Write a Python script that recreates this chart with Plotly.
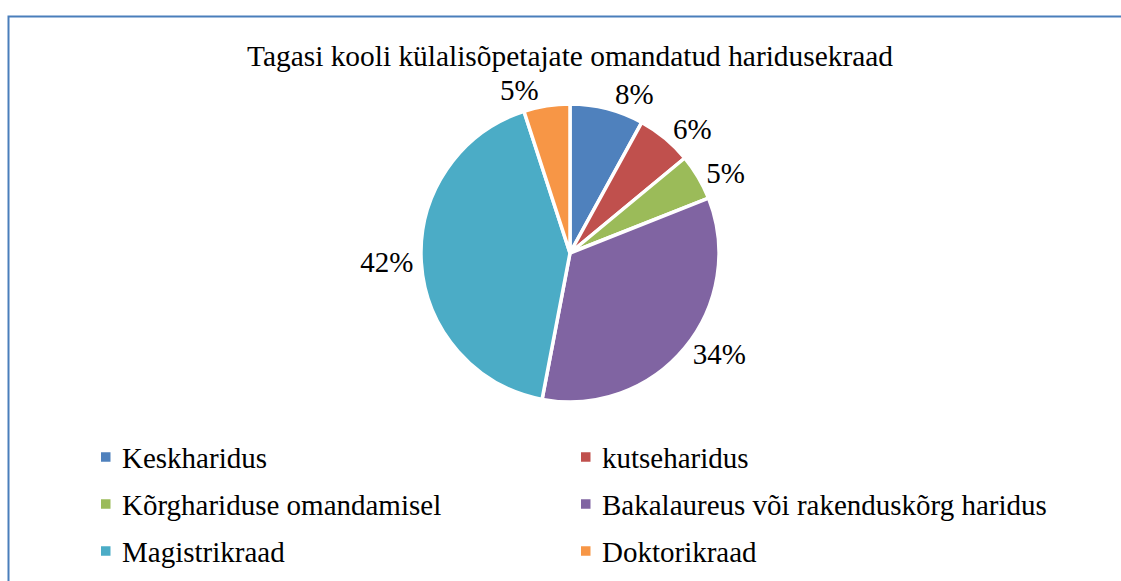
import plotly.graph_objects as go

categories = ["Keskharidus", "kutseharidus", "Kõrghariduse omandamisel",
              "Bakalaureus või rakenduskõrg haridus", "Magistrikraad", "Doktorikraad"]
values = [8, 6, 5, 34, 42, 5]
colors = ["#4F81BD", "#C0504D", "#9BBB59", "#8064A2", "#4BACC6", "#F79646"]
title_text = "Tagasi kooli külalisõpetajate omandatud haridusekraad"

W, H = 1121, 581
FONT = "Liberation Serif"
FS = 29

# pie placement (pixels)
cx, cy, half = 570, 253, 149

fig = go.Figure(go.Pie(
    labels=categories,
    values=values,
    sort=False,
    direction="clockwise",
    rotation=0,
    marker=dict(colors=colors, line=dict(color="white", width=3.5)),
    textposition="outside",
    texttemplate="%{percent:.0%}",
    textfont=dict(family=FONT, size=FS, color="black"),
    domain=dict(x=[(cx - half) / W, (cx + half) / W],
                y=[1 - (cy + half) / H, 1 - (cy - half) / H]),
    showlegend=False,
    hoverinfo="label+percent",
))

# legend drawn as annotations + squares, two columns
shapes = [dict(type="rect", xref="paper", yref="paper",
               x0=8.5 / W, x1=1.02, y0=-0.02, y1=1 - 16.5 / H,
               line=dict(color="#4A7EBB", width=2), fillcolor="rgba(0,0,0,0)")]
annotations = []
col_x = [101, 581]
row_y = [457, 504, 551]
for i, (lab, col) in enumerate(zip(categories, colors)):
    x = col_x[i % 2]
    y = row_y[i // 2]
    shapes.append(dict(type="rect", xref="paper", yref="paper",
                       x0=x / W, x1=(x + 9.5) / W,
                       y0=1 - (y + 4.75) / H, y1=1 - (y - 4.75) / H,
                       line=dict(width=0), fillcolor=col))
    annotations.append(dict(text=lab, xref="paper", yref="paper",
                            x=(x + 19) / W, y=1 - (y + 1) / H,
                            xanchor="left", yanchor="middle", showarrow=False,
                            font=dict(family=FONT, size=FS, color="black")))

fig.update_layout(
    width=W, height=H,
    margin=dict(l=0, r=0, t=0, b=0),
    paper_bgcolor="white",
    plot_bgcolor="white",
    font=dict(family=FONT, color="black"),
    title=dict(text=title_text, x=570 / W, xanchor="center",
               y=1 - 56 / H, yanchor="middle",
               font=dict(family=FONT, size=29.4, color="black")),
    showlegend=False,
    shapes=shapes,
    annotations=annotations,
)

fig.write_html("out.html",
               config={"displayModeBar": False},
               post_script="document.body.style.margin='0';"
                           "document.body.style.overflow='hidden';")
